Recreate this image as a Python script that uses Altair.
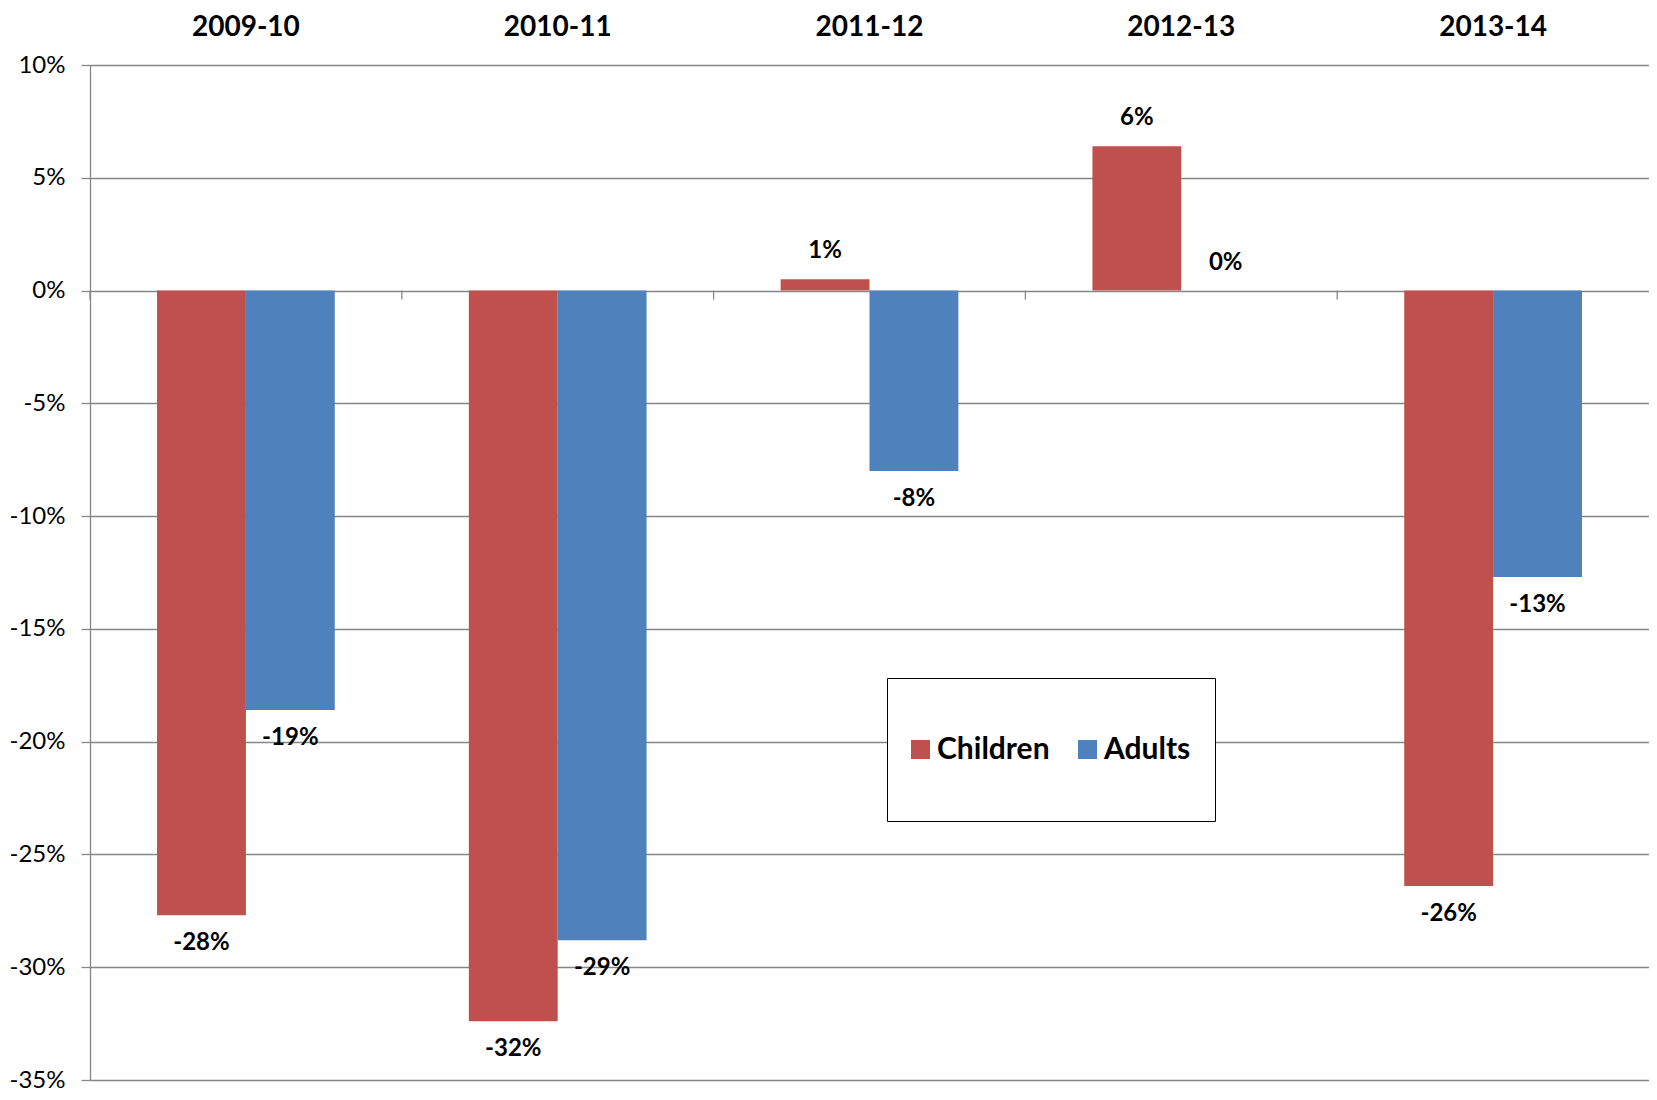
import altair as alt
import pandas as pd

years = ["2009-10", "2010-11", "2011-12", "2012-13", "2013-14"]
children = [-27.7, -32.4, 0.5, 6.4, -26.4]
adults = [-18.6, -28.8, -8.0, 0.0, -12.7]
series = ["Children", "Adults"]
colors = ["#C0504D", "#4F81BD"]
y_ticks = [10, 5, 0, -5, -10, -15, -20, -25, -30, -35]

rows = []
for i, yr in enumerate(years):
    rows.append({"year": yr, "group": "Children", "value": children[i]})
    rows.append({"year": yr, "group": "Adults", "value": adults[i]})
df = pd.DataFrame(rows)
df_years = pd.DataFrame({"year": years})

FONT = "Lato"
GRID = "#868686"
PAD = {"left": 82, "top": 57, "right": 0, "bottom": 12}
W = 1657 - 16 - PAD["left"] - PAD["right"]
H = 1100 - 16 - PAD["top"] - PAD["bottom"]

P_IN, P_OUT = 0.43, 0.215
STEP = W / len(years)
x_scale = alt.Scale(paddingInner=P_IN, paddingOuter=P_OUT)
off_scale = alt.Scale(domain=series, paddingInner=0, paddingOuter=0)
y_scale = alt.Scale(domain=[-35, 10], nice=False, zero=False)
color_scale = alt.Scale(domain=series, range=colors)

x_axis = alt.Axis(orient="top", title=None, labelAngle=0, domain=False,
                  ticks=False, grid=False, labelFont=FONT, labelFontSize=28,
                  labelFontWeight="bold", labelColor="black", labelPadding=24)
y_axis = alt.Axis(values=y_ticks, title=None, labelExpr="datum.value + '%'",
                  labelFont=FONT, labelFontSize=24, labelColor="black",
                  labelPadding=16, domain=True, domainColor=GRID, domainWidth=1.3,
                  ticks=True, tickColor=GRID, tickSize=9, tickWidth=1.3,
                  grid=True, gridColor=GRID, gridWidth=1.3, gridOpacity=1)

# legend entry: a tall (95 px) invisible symbol box holding a 19 px swatch at its left edge
ENTRY = 95
SWATCH = 19
sw_u = 2 * SWATCH / ENTRY
legend_symbol = (f"M-1,-1M-1,1M-1,{-sw_u / 2:.4f}H{-1 + sw_u:.4f}"
                 f"V{sw_u / 2:.4f}H-1Z")
label_offset = SWATCH + 7 - ENTRY

X = alt.X("year:N", sort=years, scale=x_scale, axis=x_axis)
XO = alt.XOffset("group:N", sort=series, scale=off_scale)
Y = alt.Y("value:Q", scale=y_scale, stack=None, axis=y_axis)

base = alt.Chart(df).transform_calculate(label="round(datum.value) + '%'")

bars = base.mark_bar().encode(
    x=X, xOffset=XO, y=Y,
    y2=alt.datum(0),
    color=alt.Color("group:N", scale=color_scale, sort=series,
                    legend=alt.Legend(orient="none", legendX=797, legendY=613,
                                      direction="horizontal", title=None,
                                      strokeColor="black", fillColor="white", padding=24,
                                      symbolType=legend_symbol, symbolSize=ENTRY * ENTRY,
                                      symbolStrokeWidth=0, symbolOpacity=1,
                                      labelFont=FONT, labelFontSize=30,
                                      labelFontWeight="bold", labelColor="black",
                                      columnPadding=28,
                                      labelOffset={"expr": str(label_offset)})),
)

text_style = dict(font=FONT, fontSize=24, fontWeight="bold", color="black", baseline="middle")

pos_text = base.transform_filter("datum.value >= 0").mark_text(dy=-28, **text_style).encode(
    x=X, xOffset=XO, y=Y, text="label:N",
)

neg_text = base.transform_filter("datum.value < 0").mark_text(dy=28, **text_style).encode(
    x=X, xOffset=XO, y=Y, text="label:N",
)

# category boundary ticks hanging below the zero line (shifted from band start to step start)
cat_ticks = alt.Chart(df_years).mark_rule(
    color=GRID, strokeWidth=1.3, xOffset=-P_OUT * STEP
).encode(
    x=alt.X("year:N", sort=years, scale=x_scale, axis=x_axis, bandPosition=0),
    y=alt.datum(0, type="quantitative", scale=y_scale, axis=y_axis),
    y2=alt.datum(-0.4),
)

chart = (
    alt.layer(bars, cat_ticks, pos_text, neg_text)
    .properties(width=W, height=H, padding=PAD, background="white",
                autosize=alt.AutoSizeParams(type="none"))
    .configure_view(stroke=None)
)

chart.save("out.html", embed_options={"renderer": "svg", "actions": False})
